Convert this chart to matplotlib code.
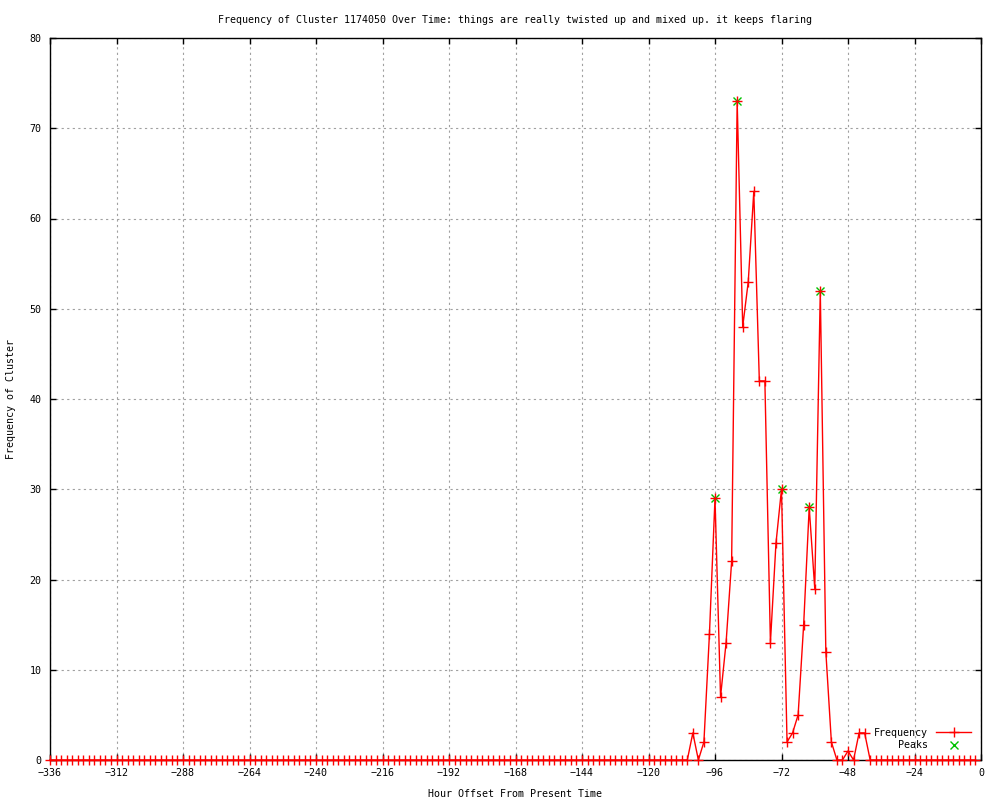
import numpy as np
import matplotlib
matplotlib.use("Agg")
import matplotlib.pyplot as plt

# ---- data ----
hours = list(range(-336, 0, 2))
freq = [0] * 116 + [
    3, 0, 2, 14, 29, 7, 13, 22, 73, 48, 53, 63, 42, 42, 13, 24, 30,
    2, 3, 5, 15, 28, 19, 52, 12, 2, 0, 0, 1, 0, 3, 3, 0,
] + [0] * 19
peak_hours = [-96, -88, -72, -62, -58]
peak_vals = [29, 73, 30, 28, 52]

x_ticks = list(range(-336, 1, 24))
y_ticks = list(range(0, 81, 10))

title = "Frequency of Cluster 1174050 Over Time: things are really twisted up and mixed up. it keeps flaring"
xlabel = "Hour Offset From Present Time"
ylabel = "Frequency of Cluster"

# ---- style ----
FS = 7.2
plt.rcParams['font.family'] = ['DejaVu Sans Mono']
plt.rcParams['font.size'] = FS

fig = plt.figure(figsize=(10, 8), dpi=100)
ax = fig.add_axes([0.05, 0.05, 0.931, 0.9025])

ax.plot(peak_hours, peak_vals, linestyle='none', marker='x', color='#00c000',
        markersize=6, markeredgewidth=1.0, label='    Peaks', zorder=3, clip_on=False)
ax.plot(hours, freq, color='red', linewidth=1.0, marker='+', markersize=6.5,
        markeredgewidth=1.0, label='Frequency', zorder=4, clip_on=False)

ax.set_xlim(-336, 0)
ax.set_ylim(0, 80)
ax.set_xticks(x_ticks)
ax.set_yticks(y_ticks)
ax.set_xticklabels([("\u2212" + str(-t)) if t < 0 else str(t) for t in x_ticks])
ax.tick_params(axis='both', direction='in', length=4.5, width=1, top=True, right=True,
               labelsize=FS, colors='black')
ax.tick_params(axis='x', pad=6)
ax.tick_params(axis='y', pad=6)
ax.grid(True, color='#a0a0a0', linestyle=(0, (2, 3)), linewidth=0.8)
ax.set_axisbelow(True)
for s in ax.spines.values():
    s.set_linewidth(1)
    s.set_color('black')

ax.set_title(title, fontsize=FS, pad=11)
ax.set_xlabel(xlabel, fontsize=FS, labelpad=7.5)
ax.set_ylabel(ylabel, fontsize=FS, labelpad=10)

handles, labels = ax.get_legend_handles_labels()
leg = ax.legend(handles[::-1], labels[::-1], loc='lower right', frameon=False,
                markerfirst=False, fontsize=FS, handlelength=3.5,
                borderaxespad=0.6, labelspacing=0.25, handletextpad=0.8)

fig.savefig("out.png", dpi=100)
